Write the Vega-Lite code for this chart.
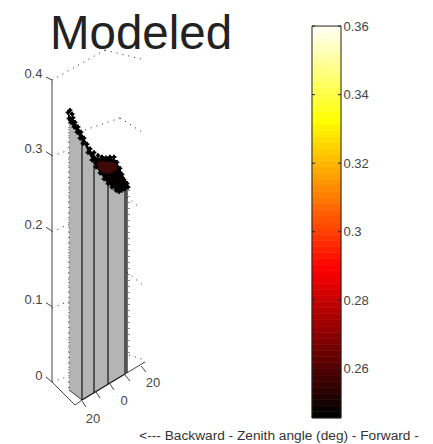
{"$schema":"https://vega.github.io/schema/vega-lite/v6.json","width":433,"height":444,"padding":0,"autosize":{"type":"none"},"background":"white","view":{"stroke":null},
"datasets":{
"bar":[{"v":0.2457,"w":0.2475},{"v":0.2475,"w":0.2493},{"v":0.2493,"w":0.2511},{"v":0.2511,"w":0.2528},{"v":0.2528,"w":0.2546},{"v":0.2546,"w":0.2564},{"v":0.2564,"w":0.2582},{"v":0.2582,"w":0.26},{"v":0.26,"w":0.2618},{"v":0.2618,"w":0.2636},{"v":0.2636,"w":0.2653},{"v":0.2653,"w":0.2671},{"v":0.2671,"w":0.2689},{"v":0.2689,"w":0.2707},{"v":0.2707,"w":0.2725},{"v":0.2725,"w":0.2743},{"v":0.2743,"w":0.2761},{"v":0.2761,"w":0.2778},{"v":0.2778,"w":0.2796},{"v":0.2796,"w":0.2814},{"v":0.2814,"w":0.2832},{"v":0.2832,"w":0.285},{"v":0.285,"w":0.2868},{"v":0.2868,"w":0.2886},{"v":0.2886,"w":0.2903},{"v":0.2903,"w":0.2921},{"v":0.2921,"w":0.2939},{"v":0.2939,"w":0.2957},{"v":0.2957,"w":0.2975},{"v":0.2975,"w":0.2993},{"v":0.2993,"w":0.3011},{"v":0.3011,"w":0.3028},{"v":0.3028,"w":0.3046},{"v":0.3046,"w":0.3064},{"v":0.3064,"w":0.3082},{"v":0.3082,"w":0.31},{"v":0.31,"w":0.3118},{"v":0.3118,"w":0.3136},{"v":0.3136,"w":0.3153},{"v":0.3153,"w":0.3171},{"v":0.3171,"w":0.3189},{"v":0.3189,"w":0.3207},{"v":0.3207,"w":0.3225},{"v":0.3225,"w":0.3243},{"v":0.3243,"w":0.3261},{"v":0.3261,"w":0.3278},{"v":0.3278,"w":0.3296},{"v":0.3296,"w":0.3314},{"v":0.3314,"w":0.3332},{"v":0.3332,"w":0.335},{"v":0.335,"w":0.3368},{"v":0.3368,"w":0.3386},{"v":0.3386,"w":0.3403},{"v":0.3403,"w":0.3421},{"v":0.3421,"w":0.3439},{"v":0.3439,"w":0.3457},{"v":0.3457,"w":0.3475},{"v":0.3475,"w":0.3493},{"v":0.3493,"w":0.3511},{"v":0.3511,"w":0.3528},{"v":0.3528,"w":0.3546},{"v":0.3546,"w":0.3564},{"v":0.3564,"w":0.3582},{"v":0.3582,"w":0.36}],
"barTicks":[{"v":0.36},{"v":0.34},{"v":0.32},{"v":0.3},{"v":0.28},{"v":0.26}],
"wall":[{"h":69,"t":0.351,"b":-0.0106},{"h":82,"t":0.3245,"b":-0.0238},{"h":94,"t":0.2914,"b":-0.0146},{"h":108,"t":0.2636,"b":-0.0026},{"h":125,"t":0.257,"b":0.0106},{"h":127,"t":0.2543,"b":0.0119}],
"band":[{"h":68,"t":0.3563,"b":0.3483},{"h":72,"t":0.3497,"b":0.3404},{"h":76,"t":0.343,"b":0.3325},{"h":80,"t":0.3338,"b":0.3232},{"h":84,"t":0.3245,"b":0.3166},{"h":88,"t":0.3126,"b":0.3046},{"h":92,"t":0.3046,"b":0.294},{"h":96,"t":0.298,"b":0.2848},{"h":100,"t":0.2967,"b":0.2768},{"h":104,"t":0.2967,"b":0.2689},{"h":108,"t":0.2967,"b":0.2623},{"h":112,"t":0.2967,"b":0.2583},{"h":116,"t":0.294,"b":0.2543},{"h":120,"t":0.2834,"b":0.2543},{"h":124,"t":0.2715,"b":0.2556},{"h":127,"t":0.2636,"b":0.257}],
"blob":[{"h":97,"t":0.2901,"b":0.2834},{"h":102,"t":0.2927,"b":0.2781},{"h":108,"t":0.2914,"b":0.2755},{"h":113,"t":0.2914,"b":0.2781},{"h":117,"t":0.2874,"b":0.2808}],
"stars":[{"h":68,"z":0.357},{"h":70,"z":0.36},{"h":72,"z":0.355},{"h":69,"z":0.349},{"h":73,"z":0.35},{"h":71,"z":0.344},{"h":75,"z":0.344},{"h":74,"z":0.338},{"h":78,"z":0.338},{"h":77,"z":0.331},{"h":81,"z":0.331},{"h":80,"z":0.323},{"h":84,"z":0.323},{"h":83,"z":0.316},{"h":87,"z":0.315},{"h":88,"z":0.304},{"h":90,"z":0.309},{"h":92,"z":0.294},{"h":94,"z":0.304},{"h":96,"z":0.285},{"h":98,"z":0.3},{"h":100,"z":0.277},{"h":102,"z":0.298},{"h":104,"z":0.269},{"h":106,"z":0.297},{"h":108,"z":0.263},{"h":110,"z":0.298},{"h":112,"z":0.258},{"h":114,"z":0.298},{"h":116,"z":0.254},{"h":117,"z":0.291},{"h":119,"z":0.252},{"h":120,"z":0.283},{"h":122,"z":0.254},{"h":122,"z":0.275},{"h":124,"z":0.268},{"h":125,"z":0.256},{"h":127,"z":0.263},{"h":128,"z":0.258}],
"solid":[{"h":52,"z":0.4,"h2":52,"z2":0},{"h":52,"z":0,"h2":75,"z2":-0.0305},{"h":75,"z":-0.0305,"h2":82,"z2":-0.0238},{"h":46,"z":0.404,"h2":52,"z2":0.4},{"h":46,"z":0.305,"h2":52,"z2":0.3},{"h":46,"z":0.205,"h2":52,"z2":0.2},{"h":46,"z":0.105,"h2":52,"z2":0.1},{"h":46,"z":0.0066,"h2":52,"z2":0},{"h":69,"z":-0.0106,"h2":82,"z2":-0.0238},{"h":82,"z":-0.0252,"h2":86,"z2":-0.0331},{"h":96,"z":-0.0132,"h2":100,"z2":-0.0212},{"h":110,"z":-0.0026,"h2":114,"z2":-0.0106},{"h":125,"z":0.0093,"h2":130,"z2":0.0013},{"h":141,"z":0.0212,"h2":146,"z2":0.0132},{"h":125,"z":0.0106,"h2":145,"z2":0.0265}],
"black":[{"h":82,"z":0.3245,"h2":82,"z2":-0.0238},{"h":94,"z":0.2914,"h2":94,"z2":-0.0146},{"h":108,"z":0.2636,"h2":108,"z2":-0.0026},{"h":125,"z":0.257,"h2":125,"z2":0.0106},{"h":127,"z":0.2543,"h2":127,"z2":0.0119},{"h":82,"z":-0.0238,"h2":125,"z2":0.0106}],
"dots":[{"h":52,"z":0.4,"h2":105,"z2":0.4397},{"h":105,"z":0.4397,"h2":145,"z2":0.4265},{"h":52,"z":0.2993,"h2":69,"z2":0.3073},{"h":85,"z":0.3338,"h2":120,"z2":0.3497},{"h":120,"z":0.3497,"h2":145,"z2":0.3285},{"h":52,"z":0.1987,"h2":69,"z2":0.2093},{"h":127,"z":0.245,"h2":140,"z2":0.2305},{"h":52,"z":0.098,"h2":69,"z2":0.1073},{"h":127,"z":0.1457,"h2":145,"z2":0.1258},{"h":52,"z":0,"h2":69,"z2":0.0079},{"h":129,"z":0.0358,"h2":145,"z2":0.0291},{"h":69,"z":0.351,"h2":69,"z2":-0.0106},{"h":129,"z":0.2543,"h2":129,"z2":0.0358}],
"labels":[{"h":153,"z":-0.0013,"t":"20"},{"h":124,"z":-0.0252,"t":"0"},{"h":93,"z":-0.049,"t":"20"}]
},
"layer":[
{"layer":[
{"data":{"name":"dots"},"mark":{"type":"rule","stroke":"#222","strokeWidth":1,"strokeDash":[1,5]},"encoding":{"x":{"field":"h","type":"quantitative","scale":{"domain":[0,433],"nice":false},"axis":null},"x2":{"field":"h2"},"y":{"field":"z","type":"quantitative","title":null,"scale":{"domain":[-0.0821,0.506],"nice":false},"axis":{"values":[0,0.1,0.2,0.3,0.4],"format":".1~f","domain":false,"ticks":false,"grid":false,"offset":-46,"labelPadding":4,"labelOffset":-7,"labelFontSize":13,"labelColor":"#444","labelFont":"Liberation Sans"}},"y2":{"field":"z2"}}},
{"data":{"name":"wall"},"mark":{"type":"area","fill":"#b4b4b4"},"encoding":{"x":{"field":"h","type":"quantitative"},"y":{"field":"t","type":"quantitative"},"y2":{"field":"b"}}},
{"data":{"name":"dots"},"transform":[{"filter":"datum.h==69"}],"mark":{"type":"rule","stroke":"#444","strokeWidth":1,"strokeDash":[1,4]},"encoding":{"x":{"field":"h","type":"quantitative"},"x2":{"field":"h2"},"y":{"field":"z","type":"quantitative"},"y2":{"field":"z2"}}},
{"data":{"name":"solid"},"mark":{"type":"rule","stroke":"#444","strokeWidth":1},"encoding":{"x":{"field":"h","type":"quantitative"},"x2":{"field":"h2"},"y":{"field":"z","type":"quantitative"},"y2":{"field":"z2"}}},
{"data":{"name":"black"},"mark":{"type":"rule","stroke":"#111","strokeWidth":1.2},"encoding":{"x":{"field":"h","type":"quantitative"},"x2":{"field":"h2"},"y":{"field":"z","type":"quantitative"},"y2":{"field":"z2"}}},
{"data":{"name":"band"},"mark":{"type":"area","fill":"#050000"},"encoding":{"x":{"field":"h","type":"quantitative"},"y":{"field":"t","type":"quantitative"},"y2":{"field":"b"}}},
{"data":{"name":"blob"},"mark":{"type":"area","fill":"#3c0808","interpolate":"monotone"},"encoding":{"x":{"field":"h","type":"quantitative"},"y":{"field":"t","type":"quantitative"},"y2":{"field":"b"}}},
{"data":{"name":"stars"},"mark":{"type":"point","shape":"cross","filled":true,"fill":"#000","size":22,"opacity":1},"encoding":{"x":{"field":"h","type":"quantitative"},"y":{"field":"z","type":"quantitative"}}},
{"data":{"name":"labels"},"mark":{"type":"text","font":"Liberation Sans","fontSize":13,"fill":"#444"},"encoding":{"x":{"field":"h","type":"quantitative"},"y":{"field":"z","type":"quantitative"},"text":{"field":"t"}}},
{"data":{"values":[{"h":141,"z":0.4596,"t":"Modeled"}]},"mark":{"type":"text","font":"Liberation Sans","fontSize":47.5,"fill":"#222"},"encoding":{"x":{"field":"h","type":"quantitative"},"y":{"field":"z","type":"quantitative"},"text":{"field":"t"}}},
{"data":{"values":[{"h":279,"z":-0.0715,"t":"<--- Backward -  Zenith angle (deg)  - Forward -"}]},"mark":{"type":"text","font":"Liberation Sans","fontSize":13.7,"fill":"#333"},"encoding":{"x":{"field":"h","type":"quantitative"},"y":{"field":"z","type":"quantitative"},"text":{"field":"t"}}}
]},
{"layer":[
{"data":{"name":"bar"},"transform":[{"calculate":"312","as":"xa"},{"calculate":"341","as":"xb"}],"mark":{"type":"rect","strokeWidth":0.6},"encoding":{"x":{"field":"xa","type":"quantitative"},"x2":{"field":"xb"},"y":{"field":"v","type":"quantitative","title":null,"scale":{"domain":[0.2381,0.3676],"nice":false},"axis":{"orient":"right","values":[0.26,0.28,0.3,0.32,0.34,0.36],"format":"~g","domain":false,"ticks":false,"grid":false,"offset":-92,"labelPadding":2,"labelFontSize":13,"labelColor":"#444","labelFont":"Liberation Sans"}},"y2":{"field":"w"},"fill":{"field":"v","type":"quantitative","legend":null,"scale":{"domain":[0.2457,0.26,0.2743,0.2886,0.3029,0.3171,0.3314,0.3457,0.36],"nice":false,"interpolate":"rgb","range":["#000000","#550000","#aa0000","#ff0000","#ff5500","#ffaa00","#ffff00","#ffff80","#ffffff"]}},"stroke":{"field":"v","type":"quantitative","legend":null,"scale":{"domain":[0.2457,0.26,0.2743,0.2886,0.3029,0.3171,0.3314,0.3457,0.36],"nice":false,"interpolate":"rgb","range":["#000000","#550000","#aa0000","#ff0000","#ff5500","#ffaa00","#ffff00","#ffff80","#ffffff"]}}}},
{"data":{"values":[{"h":312,"a":0.2457,"b":0.36,"h2":312},{"h":341,"a":0.2457,"b":0.36,"h2":341},{"h":312,"a":0.36,"b":0.36,"h2":341},{"h":312,"a":0.2457,"b":0.2457,"h2":341}]},"mark":{"type":"rule","stroke":"#222","strokeWidth":1},"encoding":{"x":{"field":"h","type":"quantitative"},"x2":{"field":"h2"},"y":{"field":"a","type":"quantitative"},"y2":{"field":"b"}}},
{"data":{"name":"barTicks"},"transform":[{"calculate":"312","as":"xa"},{"calculate":"315","as":"xb"}],"mark":{"type":"rule","stroke":"#222"},"encoding":{"x":{"field":"xa","type":"quantitative"},"x2":{"field":"xb"},"y":{"field":"v","type":"quantitative"}}},
{"data":{"name":"barTicks"},"transform":[{"calculate":"338","as":"xa"},{"calculate":"341","as":"xb"}],"mark":{"type":"rule","stroke":"#222"},"encoding":{"x":{"field":"xa","type":"quantitative"},"x2":{"field":"xb"},"y":{"field":"v","type":"quantitative"}}}
]}
],
"resolve":{"scale":{"y":"independent"},"axis":{"y":"independent"}},
"config":{"axis":{"labelFont":"Liberation Sans"}}
}
